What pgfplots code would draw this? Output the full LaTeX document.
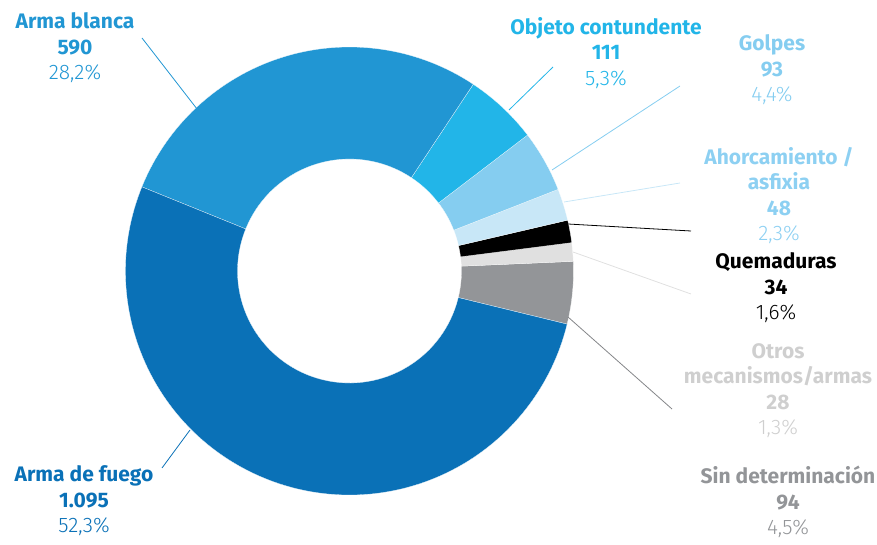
\documentclass[border=0pt]{standalone}
\usepackage{pgfplots}
\pgfplotsset{compat=1.18}
\usepackage{pgfplotstable}
\usepackage{fontspec}
\setmainfont{Fira Sans}
\newfontfamily\lightfont{Fira Sans Light}

\definecolor{pc0}{HTML}{939598}
\definecolor{pc1}{HTML}{E0E0E0}
\definecolor{pc2}{HTML}{000000}
\definecolor{pc3}{HTML}{C8E7F7}
\definecolor{pc4}{HTML}{85CDF0}
\definecolor{pc5}{HTML}{22B5E8}
\definecolor{pc6}{HTML}{2196D3}
\definecolor{pc7}{HTML}{0A71B7}
\definecolor{tAhorc}{HTML}{8DD0F2}
\definecolor{tOtros}{HTML}{CFCFCF}

% order: Sin determinacion, Otros, Quemaduras, Ahorcamiento, Golpes, Objeto, Arma blanca, Arma de fuego
\pgfplotstableread{
value
94
28
34
48
93
111
590
1095
}\piedata

\begin{document}
\begin{tikzpicture}
\useasboundingbox (0,0) rectangle (877bp,545bp);
\gdef\total{0}
\foreach \i in {0,...,7}{%
  \pgfplotstablegetelem{\i}{value}\of\piedata
  \pgfmathparse{\total+\pgfplotsretval}\xdef\total{\pgfmathresult}}
\gdef\cum{-13.7}
\foreach \i in {0,...,7}{%
  \pgfplotstablegetelem{\i}{value}\of\piedata
  \pgfmathparse{\cum+\pgfplotsretval/\total*360}%
  \expandafter\xdef\csname pa\i\endcsname{\cum}%
  \expandafter\xdef\csname pb\i\endcsname{\pgfmathresult}%
  \xdef\cum{\pgfmathresult}}
\begin{axis}[hide axis, x=1bp, y=1bp, xmin=0, xmax=877, ymin=0, ymax=545,
  clip=false, scale only axis, anchor=south west, at={(0,0)}]
\pgfplotsinvokeforeach{0,...,7}{
  \fill[fill=pc#1, draw=white, line width=0.2bp]
    (axis cs:{349.5+224*cos(\csname pa#1\endcsname)},{274+224*sin(\csname pa#1\endcsname)})
    arc[start angle=\csname pa#1\endcsname, end angle=\csname pb#1\endcsname, radius=224bp]
    -- (axis cs:{349.5+112*cos(\csname pb#1\endcsname)},{274+112*sin(\csname pb#1\endcsname)})
    arc[start angle=\csname pb#1\endcsname, end angle=\csname pa#1\endcsname, radius=112bp]
    -- cycle;
}
% leader lines
\addplot[pc6, line width=0.8bp] coordinates {(142,507) (204,427)};
\addplot[pc5, line width=0.8bp] coordinates {(553,478) (509,435)};
\addplot[pc4, line width=0.8bp] coordinates {(680,459) (552,375)};
\addplot[pc3, line width=0.8bp] coordinates {(564,343) (680,362)};
\addplot[pc2, line width=0.8bp] coordinates {(568,321) (691,314)};
\addplot[pc1, line width=0.8bp] coordinates {(573,293) (691,251)};
\addplot[pc0!90!black, line width=0.8bp] coordinates {(568,228) (672,136)};
\addplot[pc7, line width=0.8bp] coordinates {(190,115) (162,77)};

\tikzset{lbl/.style={align=center, inner sep=0pt, font=\fontsize{21bp}{25.5bp}\selectfont}}
\node[lbl, text=pc6] at (axis cs:75,497) {{\bfseries Arma blanca}\\{\bfseries 590}\\{\lightfont 28,2\%}};
\node[lbl, text=pc5] at (axis cs:606,492) {{\bfseries Objeto contundente}\\{\bfseries 111}\\{\lightfont 5,3\%}};
\node[lbl, text=pc4] at (axis cs:772,475) {{\bfseries Golpes}\\{\bfseries 93}\\{\lightfont 4,4\%}};
\node[lbl, text=tAhorc] at (axis cs:779,349.5) {{\bfseries Ahorcamiento /}\\{\bfseries asfixia}\\{\bfseries 48}\\{\lightfont 2,3\%}};
\node[lbl, text=black] at (axis cs:776,257) {{\bfseries Quemaduras}\\{\bfseries 34}\\{\lightfont 1,6\%}};
\node[lbl, text=tOtros] at (axis cs:778,154.5) {{\bfseries Otros}\\{\bfseries mecanismos/armas}\\{\bfseries 28}\\{\lightfont 1,3\%}};
\node[lbl, text=pc0] at (axis cs:788,43) {{\bfseries Sin determinación}\\{\bfseries 94}\\{\lightfont 4,5\%}};
\node[lbl, text=pc7] at (axis cs:84,44) {{\bfseries Arma de fuego}\\{\bfseries 1.095}\\{\lightfont 52,3\%}};
\end{axis}
\end{tikzpicture}
\end{document}
